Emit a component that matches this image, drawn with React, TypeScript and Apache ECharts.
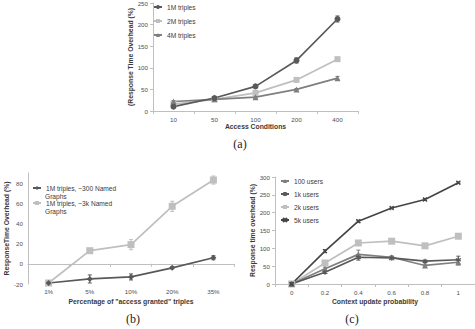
import React, { useEffect, useRef } from 'react';
import * as echarts from 'echarts';

// ---- Chart (a) ----
const aCategories = ['10', '50', '100', '200', '400'];
const a1M = [10, 30, 57, 117, 213];
const a1MErr = [2, 2, 3, 6, 7];
const a2M = [16, 27, 42, 72, 120];
const a2MErr = [2, 2, 3, 5, 3];
const a4M = [22, 27, 32, 50, 76];
const a4MErr = [2, 1, 2, 2, 4];

// ---- Chart (b) ----
const bCategories = ['1%', '5%', '10%', '20%', '35%'];
const b300 = [-19, -15, -13, -4, 6];
const b300Err = [1, 4, 3, 1, 2];
const b3k = [-19, 13, 19, 57, 83];
const b3kErr = [1, 2, 5, 5, 4];

// ---- Chart (c) ----
const cCategories = ['0', '0.2', '0.4', '0.6', '0.8', '1'];
const c100 = [0, 43, 83, 75, 52, 61];
const c100Err = [0, 4, 12, 4, 4, 8];
const c1k = [0, 33, 75, 73, 64, 68];
const c1kErr = [0, 3, 8, 4, 3, 10];
const c2k = [0, 59, 115, 120, 107, 134];
const c2kErr = [0, 4, 5, 4, 4, 5];
const c5k = [0, 92, 176, 213, 237, 284];
const c5kErr = [0, 4, 3, 2, 3, 2];

const SANS = 'Liberation Sans';
const SERIF = 'Liberation Serif';
const AXIS_GRAY = '#bfbfbf';
const LABEL = '#505050';
const TITLE = '#3a3a3a';

const DARK = '#595959';
const DARKER = '#454545';
const MID = '#7f7f7f';
const LIGHT = '#bfbfbf';

const X_PATH = 'path://M0,0L10,10M10,0L0,10';
const STAR_PATH = 'path://M5,0L5,10M0,2.5L10,7.5M10,2.5L0,7.5';

function lineSeries(name: string, xi: number, data: number[], color: string, symbol: string, size: number, stroke = false) {
  return {
    name,
    type: 'line',
    xAxisIndex: xi,
    yAxisIndex: xi,
    data,
    symbol,
    symbolSize: size,
    lineStyle: { color, width: 1.7 },
    itemStyle: stroke ? { color, borderColor: color, borderWidth: 1.2 } : { color },
    z: 4,
  };
}

function errSeries(xi: number, vals: number[], errs: number[], color: string) {
  return {
    type: 'custom',
    xAxisIndex: xi,
    yAxisIndex: xi,
    silent: true,
    z: 3,
    data: vals.map((v, i) => [i, v, errs[i]]).filter((d) => d[2] > 0),
    encode: { x: 0, y: 1 },
    renderItem: (_p: any, api: any) => {
      const i = api.value(0);
      const v = api.value(1);
      const e = api.value(2);
      const t = api.coord([i, v + e]);
      const b = api.coord([i, v - e]);
      const w = 2;
      const st = { stroke: color, lineWidth: 1 };
      return {
        type: 'group',
        children: [
          { type: 'line', shape: { x1: t[0], y1: t[1], x2: b[0], y2: b[1] }, style: st },
          { type: 'line', shape: { x1: t[0] - w, y1: t[1], x2: t[0] + w, y2: t[1] }, style: st },
          { type: 'line', shape: { x1: b[0] - w, y1: b[1], x2: b[0] + w, y2: b[1] }, style: st },
        ],
      };
    },
  };
}

function xAxisCfg(gi: number, data: string[], name: string, margin: number, nameGap: number) {
  return {
    type: 'category',
    gridIndex: gi,
    data,
    boundaryGap: true,
    axisLine: { show: true, lineStyle: { color: AXIS_GRAY, width: 1 } },
    axisTick: { show: true, length: 3, lineStyle: { color: AXIS_GRAY } },
    axisLabel: { fontSize: 6.2, color: LABEL, fontFamily: SANS, margin },
    splitLine: { show: false },
    name,
    nameLocation: 'middle',
    nameGap,
    nameTextStyle: { fontSize: 6.8, fontWeight: 'bold', color: TITLE, fontFamily: SANS },
  };
}

function yAxisCfg(gi: number, min: number, max: number, interval: number, name: string, nameGap: number, extra: any = {}) {
  return {
    type: 'value',
    gridIndex: gi,
    min,
    max,
    interval,
    axisLine: { show: true, lineStyle: { color: AXIS_GRAY, width: 1 } },
    axisTick: { show: true, length: 3, lineStyle: { color: AXIS_GRAY } },
    axisLabel: { fontSize: 6.2, color: LABEL, fontFamily: SANS, margin: 5, ...(extra.axisLabel || {}) },
    splitLine: { show: false },
    name,
    nameLocation: 'middle',
    nameGap,
    nameTextStyle: { fontSize: 6.8, fontWeight: 'bold', color: TITLE, fontFamily: SANS },
    ...(extra.rest || {}),
  };
}

const legendText = { fontSize: 6.6, color: TITLE, fontFamily: SANS, lineHeight: 8 };
const extraText = (text: string, x: number, y: number) => ({
  type: 'text',
  x,
  y,
  style: { text, fontSize: 6.6, fontFamily: SANS, fill: TITLE, textAlign: 'left', textVerticalAlign: 'middle' },
});
const caption = (text: string, x: number, y: number) => ({
  type: 'text',
  x,
  y,
  style: { text, fontSize: 12, fontFamily: SERIF, fill: '#222', textAlign: 'center', textVerticalAlign: 'middle' },
});

export default function App() {
  const ref = useRef<HTMLDivElement>(null);
  useEffect(() => {
    if (!ref.current) return;
    const chart = echarts.init(ref.current, undefined, { renderer: 'svg' });
    chart.setOption({
      animation: false,
      backgroundColor: '#ffffff',
      grid: [
        { left: 153, top: 3, width: 205, height: 108 },
        { left: 28, top: 173, width: 206, height: 111 },
        { left: 275, top: 177, width: 204, height: 107 },
      ],
      xAxis: [
        xAxisCfg(0, aCategories, 'Access Conditions', 5, 11),
        xAxisCfg(1, bCategories, 'Percentage of "access granted" triples', 4, 14),
        xAxisCfg(2, cCategories, 'Context update probability', 5, 14),
      ],
      yAxis: [
        yAxisCfg(0, 0, 250, 50, '(Response Time Overhead (%)', 19),
        yAxisCfg(1, -20, 90, 10, 'ResponseTime Overhead (%)', 16, {
          axisLabel: { formatter: (v: number) => (v % 20 === 0 && v <= 80 ? String(v) : '') },
          rest: { axisTick: { show: false } },
        }),
        yAxisCfg(2, 0, 300, 50, 'Response time overhead (%)', 18),
      ],
      legend: [
        {
          left: 153, top: 3, padding: 0, orient: 'vertical', itemWidth: 8, itemHeight: 5, itemGap: 6,
          selectedMode: false, textStyle: legendText,
          data: ['1M triples', '2M triples', '4M triples'],
        },
        {
          left: 32, top: 184, padding: 0, orient: 'vertical', itemWidth: 8, itemHeight: 5, itemGap: 7,
          selectedMode: false, textStyle: legendText,
          data: ['1M triples, ~300 Named', '1M triples, ~3k Named'],
        },
        {
          left: 280, top: 177, padding: 0, orient: 'vertical', itemWidth: 8, itemHeight: 5, itemGap: 5,
          selectedMode: false, textStyle: legendText,
          data: ['100 users', '1k users', '2k users', '5k users'],
        },
      ],
      series: [
        errSeries(0, a2M, a2MErr, LIGHT),
        errSeries(0, a4M, a4MErr, MID),
        errSeries(0, a1M, a1MErr, DARK),
        lineSeries('2M triples', 0, a2M, LIGHT, 'rect', 6),
        lineSeries('4M triples', 0, a4M, MID, 'triangle', 6),
        lineSeries('1M triples', 0, a1M, DARK, 'circle', 6),

        errSeries(1, b3k, b3kErr, LIGHT),
        errSeries(1, b300, b300Err, DARK),
        lineSeries('1M triples, ~3k Named', 1, b3k, LIGHT, 'rect', 7),
        lineSeries('1M triples, ~300 Named', 1, b300, DARK, 'diamond', 6),

        errSeries(2, c2k, c2kErr, LIGHT),
        errSeries(2, c100, c100Err, MID),
        errSeries(2, c1k, c1kErr, DARK),
        errSeries(2, c5k, c5kErr, DARKER),
        lineSeries('2k users', 2, c2k, LIGHT, 'rect', 7),
        lineSeries('100 users', 2, c100, MID, 'triangle', 6),
        lineSeries('1k users', 2, c1k, DARK, STAR_PATH, 5, true),
        lineSeries('5k users', 2, c5k, DARKER, X_PATH, 4, true),
      ],
      graphic: [
        extraText('Graphs', 45, 196),
        extraText('Graphs', 45, 211),
        caption('(a)', 240, 144),
        caption('(b)', 133, 319),
        caption('(c)', 352, 319),
      ],
    });
    return () => chart.dispose();
  }, []);
  return (
    <div
      ref={ref}
      style={{ position: 'fixed', left: 0, top: 0, width: 475, height: 329, background: '#fff' }}
    />
  );
}
